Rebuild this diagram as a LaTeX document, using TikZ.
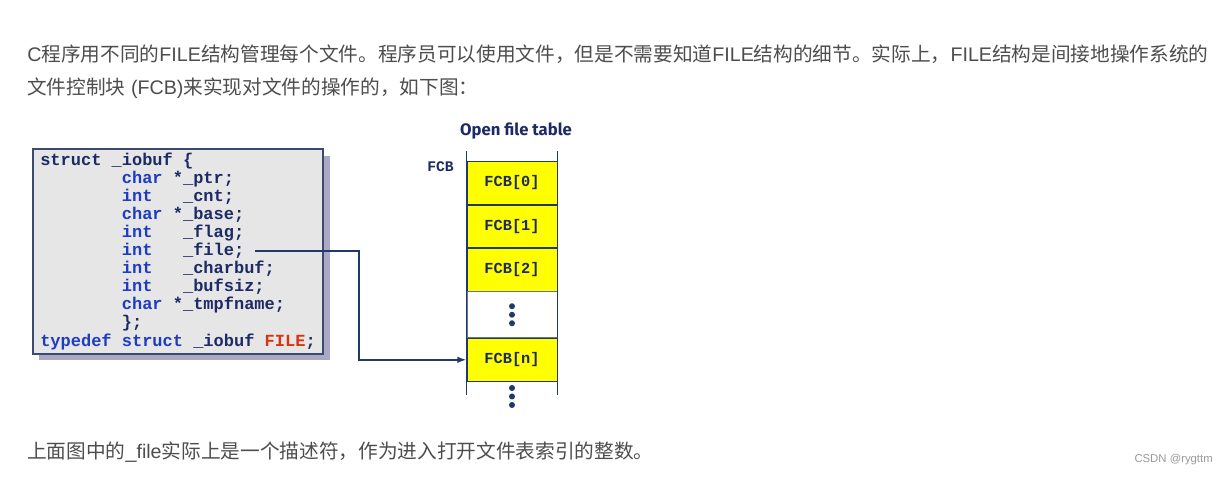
\documentclass[tikz,border=0pt]{standalone}
\usepackage{fontspec}
\setmainfont{Liberation Sans}
\setmonofont{Liberation Mono}
\newfontfamily\cjk{Noto Sans CJK SC}
\newfontfamily\titlefont{Fira Sans}
\usetikzlibrary{positioning,calc,arrows.meta}
\definecolor{bodytext}{HTML}{4D4D4D}
\definecolor{kwblue}{HTML}{1E3CC0}
\definecolor{idnavy}{HTML}{1C2A66}
\definecolor{filered}{HTML}{D8340E}
\definecolor{boxfill}{HTML}{E6E6E6}
\definecolor{boxline}{HTML}{3C4A6E}
\definecolor{shadow}{HTML}{A9A9C6}
\definecolor{navy}{HTML}{1F3A6A}
\definecolor{fcbyellow}{HTML}{FFFF00}
\newcommand{\zh}[1]{{\cjk #1}}
\newcommand{\kw}[1]{\textcolor{kwblue}{#1}}
\tikzset{
	bodyline/.style={anchor=west, inner sep=0pt, text=bodytext, font=\fontsize{14.75}{18}\selectfont},
	codeline/.style={anchor=west, inner sep=0pt, text=idnavy, font=\fontsize{12.75}{14}\ttfamily\bfseries},
	fcbcell/.style={draw=navy, line width=0.6pt, fill=fcbyellow, minimum width=67.5pt, minimum height=31.9pt, inner sep=0pt, text=idnavy, font=\fontsize{11.5}{13}\ttfamily\bfseries},
	gapcell/.style={draw=navy!70, line width=0.6pt, minimum width=67.5pt, minimum height=35.25pt, inner sep=0pt},
	fcbdot/.style={fill=navy, draw=none, circle, inner sep=0pt, minimum size=4.5pt}
}
\begin{document}
\begin{tikzpicture}[x=0.75pt, y=-0.75pt, >={Latex[length=7pt,width=5pt]}]
	\useasboundingbox[fill=white] (0,0) rectangle (1223,476);
	% text round the picture
	\node[bodyline] (line1) at (27,54) {C\zh{程序用不同的}FILE\zh{结构管理每个文件。程序员可以使用文件，但是不需要知道}FILE\zh{结构的细节。实际上，}FILE\zh{结构是间接地操作系统的}};
	\node[bodyline] (line2) at (27,88) {\zh{文件控制块} (FCB)\zh{来实现对文件的操作的，如下图：}};
	\node[bodyline] (line3) at (27,452) {\zh{上面图中的}\_file\zh{实际上是一个描述符，作为进入打开文件表索引的整数。}};
	\node[anchor=east, inner sep=0pt, text=gray!80, font=\fontsize{8.5}{10}\selectfont] (mark) at (1213,460) {CSDN @rygttm};

	% the struct
	\fill[shadow] (39,156) rectangle (330,360);
	\draw[boxline, fill=boxfill, line width=0.8pt] (33,149) rectangle (323,354);
	\node[codeline] (l0) at (40,161) {struct \_iobuf \{};
	\node[codeline] (l1) at (40,179) {~~~~~~~~\kw{char} *\_ptr;};
	\node[codeline] (l2) at (40,197) {~~~~~~~~\kw{int}~~~\_cnt;};
	\node[codeline] (l3) at (40,215) {~~~~~~~~\kw{char} *\_base;};
	\node[codeline] (l4) at (40,233) {~~~~~~~~\kw{int}~~~\_flag;};
	\node[codeline] (file) at (40,251) {~~~~~~~~\kw{int}~~~\_file;};
	\node[codeline] (l6) at (40,269) {~~~~~~~~\kw{int}~~~\_charbuf;};
	\node[codeline] (l7) at (40,287) {~~~~~~~~\kw{int}~~~\_bufsiz;};
	\node[codeline] (l8) at (40,305) {~~~~~~~~\kw{char} *\_tmpfname;};
	\node[codeline] (l9) at (40,323) {~~~~~~~~\};};
	\node[codeline] (l10) at (40,342) {\kw{typedef struct} \_iobuf \textcolor{filered}{FILE};};

	% open file table
	\node[text=idnavy, font=\titlefont\fontsize{12.5}{14}\selectfont\bfseries] (title) at (516,131) {Open file table};
	\node[codeline, font=\fontsize{11}{13}\ttfamily\bfseries] (fcblabel) at (427,167) {FCB};
	\node[fcbcell] (fcb0) at (512,183) {FCB[0]};
	\node[fcbcell, below=0pt of fcb0] (fcb1) {FCB[1]};
	\node[fcbcell, below=0pt of fcb1] (fcb2) {FCB[2]};
	\node[gapcell, minimum height=34.5pt, below=0pt of fcb2] (gap) {};
	\node[fcbcell, below=0pt of gap] (fcbn) {FCB[n]};
	\draw[navy, line width=0.8pt] (fcb0.north west) ++(0,-10) -- (fcbn.south west) -- ++(0,14);
	\draw[navy, line width=0.8pt] (fcb0.north east) ++(0,-10) -- (fcbn.south east) -- ++(0,14);
	\foreach \k in {-1,0,1} {
		\node[fcbdot] at ($(gap.center)+(0,\k*8.5)$) {};
		\node[fcbdot] at ($(fcbn.south)+(0,15+\k*8.5)$) {};
	}

	% _file points into the table
	\draw[->, navy, line width=1.5pt] ($(file.east)+(10,0)$) -- ++(104,0) |- (fcbn.west);
\end{tikzpicture}
\end{document}
